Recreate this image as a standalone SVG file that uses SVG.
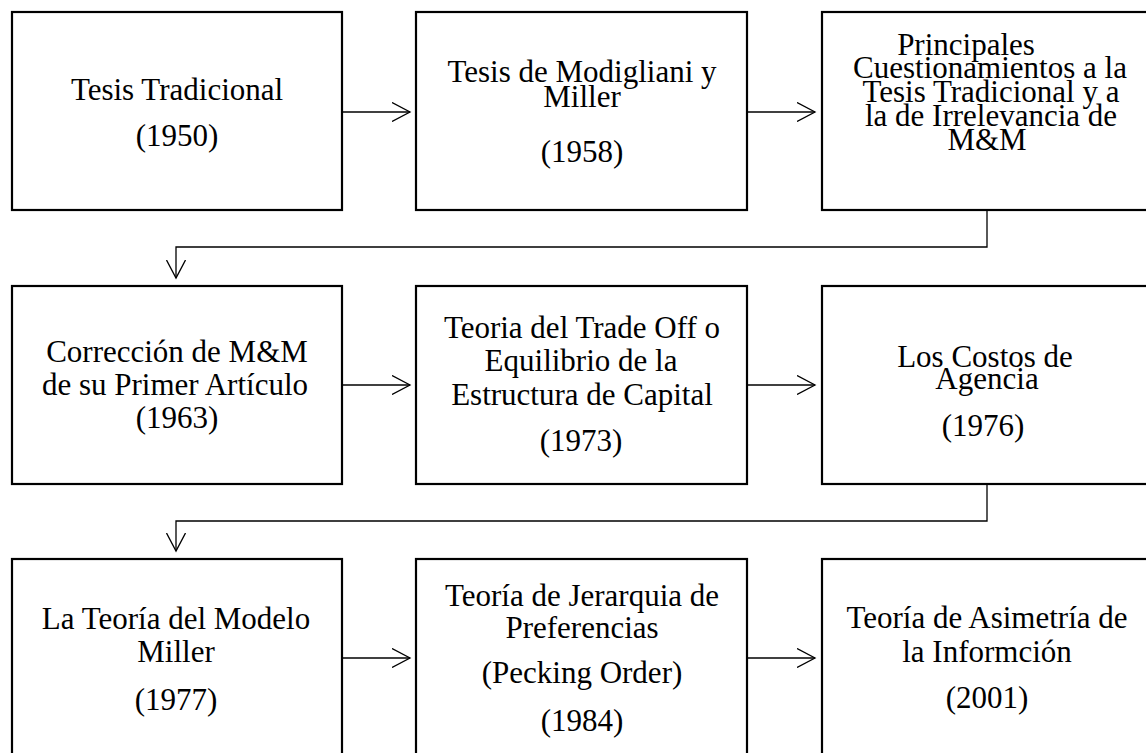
<svg xmlns="http://www.w3.org/2000/svg" width="1146" height="753" viewBox="0 0 1146 753">
<style>
.box{fill:#fff;stroke:#000;stroke-width:2.2}
.t{font-family:"Liberation Serif","Times New Roman",serif;font-size:31px;fill:#000;text-anchor:middle}
.c{fill:none;stroke:#000;stroke-width:1.3}
</style>
<defs>
<marker id="ah" viewBox="0 0 20 20" refX="18" refY="10" markerWidth="20" markerHeight="20" markerUnits="userSpaceOnUse" orient="auto">
<path d="M0,0.5 L18,10 L0,19.5" fill="none" stroke="#000" stroke-width="1.3"/>
</marker>
</defs>
<rect width="1146" height="753" fill="#fff"/>
<g id="connectors">
<path class="c" d="M342,112 H410" marker-end="url(#ah)"/>
<path class="c" d="M747,112 H815" marker-end="url(#ah)"/>
<path class="c" d="M987,211 V247 H176 V278" marker-end="url(#ah)"/>
<path class="c" d="M342,385 H410" marker-end="url(#ah)"/>
<path class="c" d="M747,385 H815" marker-end="url(#ah)"/>
<path class="c" d="M987,485 V521 H176 V551" marker-end="url(#ah)"/>
<path class="c" d="M342,658 H410" marker-end="url(#ah)"/>
<path class="c" d="M747,658 H815" marker-end="url(#ah)"/>
</g>
<g id="n1">
<rect class="box" x="12" y="12" width="330" height="198"/>
<text class="t" x="177" y="100">Tesis Tradicional</text>
<text class="t" x="177" y="146">(1950)</text>
</g>
<g id="n2">
<rect class="box" x="416" y="12" width="331" height="198"/>
<text class="t" x="582" y="82">Tesis de Modigliani y</text>
<text class="t" x="582" y="107">Miller</text>
<text class="t" x="582" y="162">(1958)</text>
</g>
<g id="n3">
<rect class="box" x="822" y="12" width="340" height="198"/>
<text class="t" x="966" y="55">Principales</text>
<text class="t" x="990" y="78">Cuestionamientos a la</text>
<text class="t" x="991" y="102">Tesis Tradicional y a</text>
<text class="t" x="991" y="126">la de Irrelevancia de</text>
<text class="t" x="987" y="150">M&amp;M</text>
</g>
<g id="n4">
<rect class="box" x="12" y="286" width="330" height="198"/>
<text class="t" x="177" y="362">Corrección de M&amp;M</text>
<text class="t" x="175" y="395">de su Primer Artículo</text>
<text class="t" x="177" y="428">(1963)</text>
</g>
<g id="n5">
<rect class="box" x="416" y="286" width="331" height="198"/>
<text class="t" x="582" y="338">Teoria del Trade Off o</text>
<text class="t" x="581" y="371">Equilibrio de la</text>
<text class="t" x="582" y="405">Estructura de Capital</text>
<text class="t" x="581" y="451">(1973)</text>
</g>
<g id="n6">
<rect class="box" x="822" y="286" width="340" height="198"/>
<text class="t" x="985" y="367">Los Costos de</text>
<text class="t" x="987" y="389">Agencia</text>
<text class="t" x="983" y="436">(1976)</text>
</g>
<g id="n7">
<rect class="box" x="12" y="559" width="330" height="210"/>
<text class="t" x="176" y="629">La Teoría del Modelo</text>
<text class="t" x="176" y="662">Miller</text>
<text class="t" x="176" y="710">(1977)</text>
</g>
<g id="n8">
<rect class="box" x="416" y="559" width="331" height="210"/>
<text class="t" x="582" y="606">Teoría de Jerarquia de</text>
<text class="t" x="582" y="638">Preferencias</text>
<text class="t" x="582" y="683">(Pecking Order)</text>
<text class="t" x="582" y="731">(1984)</text>
</g>
<g id="n9">
<rect class="box" x="822" y="559" width="340" height="210"/>
<text class="t" x="987" y="628">Teoría de Asimetría de</text>
<text class="t" x="987" y="662">la Informción</text>
<text class="t" x="987" y="708">(2001)</text>
</g>
</svg>
